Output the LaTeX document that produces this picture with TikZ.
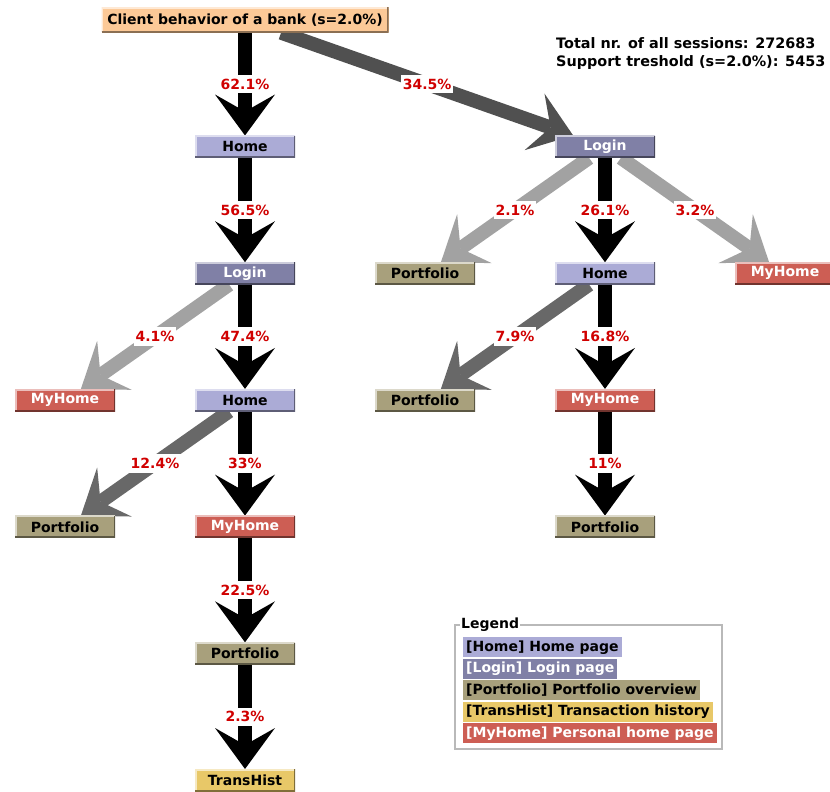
\documentclass[tikz,border=0pt]{standalone}
\usepackage{fontspec}
\setmainfont{DejaVu Sans}
\usetikzlibrary{positioning,arrows.meta}

\definecolor{rootcol}{RGB}{252,201,151}
\definecolor{homecol}{RGB}{171,171,214}
\definecolor{logincol}{RGB}{128,128,166}
\definecolor{portcol}{RGB}{168,160,124}
\definecolor{transcol}{RGB}{232,200,104}
\definecolor{myhomecol}{RGB}{205,94,84}
\definecolor{pctcol}{RGB}{208,0,0}
\definecolor{darkflow}{RGB}{80,80,80}
\definecolor{midflow}{RGB}{104,104,104}
\definecolor{lightflow}{RGB}{162,162,162}

\pgfdeclarelayer{edges}
\pgfsetlayers{edges,main}

\tikzset{
  page/.style={fill=#1, minimum width=100pt, minimum height=22pt, inner sep=0pt,
    font=\bfseries\fontsize{14}{16}\selectfont,
    path picture={
      \draw[#1!40!white, line width=3pt] (path picture bounding box.south west) |- (path picture bounding box.north east);
      \draw[#1!55!black, line width=3pt] (path picture bounding box.south west) -| (path picture bounding box.north east);
    }},
  flow/.style={draw=#1, line width=14pt, -{Stealth[length=41pt, width=60pt, inset=17pt, line width=0pt]}},
  pct/.style={fill=white, text=pctcol, inner xsep=2pt, inner ysep=4pt, font=\bfseries\fontsize{14}{16}\selectfont},
  legitem/.style={fill=#1, anchor=north west, minimum height=20pt, inner xsep=3pt, inner ysep=0pt, font=\bfseries\fontsize{14}{16}\selectfont}
}

\begin{document}
\begin{tikzpicture}[x=1pt, y=-1pt, on grid, node distance=126.7pt and 180pt]
    \useasboundingbox (0,0) rectangle (830,792);

    % Root
    \node [page=rootcol, minimum width=287pt, minimum height=25pt] (root) at (245,20) {Client behavior of a bank (s=2.0\%)};

    % Left branch
    \node [page=homecol, below=of root] (home) {Home};
    \node [page=logincol, text=white, below=of home] (login) {Login};
    \node [page=myhomecol, text=white, below left=of login] (loginmy) {MyHome};
    \node [page=homecol, below=of login] (home2) {Home};
    \node [page=portcol, below left=of home2] (home2port) {Portfolio};
    \node [page=myhomecol, text=white, below=of home2] (myhome) {MyHome};
    \node [page=portcol, below=of myhome] (port) {Portfolio};
    \node [page=transcol, below=of port] (trans) {TransHist};

    % Right branch
    \node [page=logincol, text=white, below right=126.7pt and 360pt of root] (loginr) {Login};
    \node [page=portcol, below left=of loginr] (loginrport) {Portfolio};
    \node [page=homecol, below=of loginr] (homer) {Home};
    \node [page=myhomecol, text=white, below right=of loginr] (loginrmy) {MyHome};
    \node [page=portcol, below left=of homer] (homerport) {Portfolio};
    \node [page=myhomecol, text=white, below=of homer] (myhomer) {MyHome};
    \node [page=portcol, below=of myhomer] (portr) {Portfolio};

    % Arrows
    \begin{pgfonlayer}{edges}
    \draw[flow=black] (root) -- node[pct] {62.1\%} (home);
    \draw[flow=darkflow] (root) -- node[pct] {34.5\%} (loginr);
    \draw[flow=black] (home) -- node[pct] {56.5\%} (login);
    \draw[flow=lightflow] (login) -- node[pct] {4.1\%} (loginmy);
    \draw[flow=black] (login) -- node[pct] {47.4\%} (home2);
    \draw[flow=midflow] (home2) -- node[pct] {12.4\%} (home2port);
    \draw[flow=black] (home2) -- node[pct] {33\%} (myhome);
    \draw[flow=black] (myhome) -- node[pct] {22.5\%} (port);
    \draw[flow=black] (port) -- node[pct] {2.3\%} (trans);
    \draw[flow=lightflow] (loginr) -- node[pct] {2.1\%} (loginrport);
    \draw[flow=black] (loginr) -- node[pct] {26.1\%} (homer);
    \draw[flow=lightflow] (loginr) -- node[pct] {3.2\%} (loginrmy);
    \draw[flow=midflow] (homer) -- node[pct] {7.9\%} (homerport);
    \draw[flow=black] (homer) -- node[pct] {16.8\%} (myhomer);
    \draw[flow=black] (myhomer) -- node[pct] {11\%} (portr);
    \end{pgfonlayer}

    % Totals
    \node [anchor=north west, align=left, inner sep=0pt, font=\bfseries\fontsize{14.4}{18}\selectfont] (stats) at (556,37) {Total nr. of all sessions: 272683\\Support treshold (s=2.0\%): 5453};

    % Legend
    \draw[gray!55, line width=1.2pt] (455,625) rectangle (722,749);
    \node [fill=white, anchor=west, inner sep=1pt, font=\bfseries\fontsize{14}{16}\selectfont] (legtitle) at (460,625) {Legend};
    \node [legitem=homecol] (leghome) at (463,637) {[Home] Home page};
    \node [legitem=logincol, text=white] (leglogin) at (463,658.5) {[Login] Login page};
    \node [legitem=portcol] (legport) at (463,680) {[Portfolio] Portfolio overview};
    \node [legitem=transcol] (legtrans) at (463,701.5) {[TransHist] Transaction history};
    \node [legitem=myhomecol, text=white] (legmy) at (463,723) {[MyHome] Personal home page};
\end{tikzpicture}
\end{document}
